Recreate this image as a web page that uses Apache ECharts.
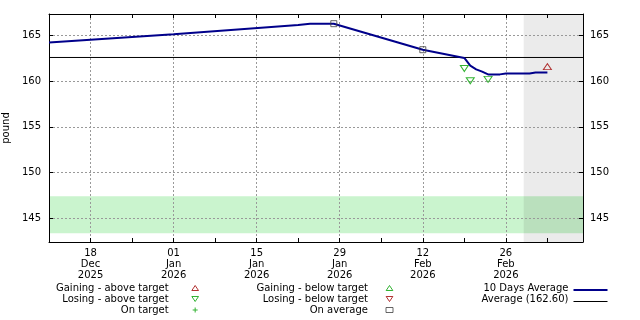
<!DOCTYPE html>
<html><head><meta charset="utf-8">
<script src="https://cdn.jsdelivr.net/npm/echarts@6/dist/echarts.min.js"></script>
<style>html,body{margin:0;padding:0;background:#fff}#c{width:640px;height:320px}</style>
</head><body><div id="c"></div>
<script>
// ---- data ----
const lineDates = ['2025-12-11','2026-01-01','2026-01-22','2026-01-24','2026-01-28','2026-02-12','2026-02-19','2026-02-20','2026-02-21','2026-02-22','2026-02-23','2026-02-25','2026-02-26','2026-03-02','2026-03-03','2026-03-05'];
const lineValues = [164.25,165.15,166.15,166.30,166.30,163.45,162.55,161.70,161.30,161.05,160.75,160.75,160.85,160.85,160.95,160.95];
const onAverageDates = ['2026-01-28','2026-02-12'];
const onAverageValues = [166.30,163.45];
const losingAboveDates = ['2026-02-19','2026-02-20','2026-02-23'];
const losingAboveValues = [161.40,160.05,160.20];
const gainingAboveDates = ['2026-03-05'];
const gainingAboveValues = [161.60];
const gainingBelowDates = [];
const gainingBelowValues = [];
const losingBelowDates = [];
const losingBelowValues = [];
const onTargetDates = [];
const onTargetValues = [];
const averageValue = 162.60;
const targetBand = [143.35, 147.40];
const forecastStart = '2026-03-01';
const xStart = '2025-12-11';
const xEnd = '2026-03-11';
const yMin = 142.4, yMax = 167.36;
const monthNames = ['Jan','Feb','Mar','Apr','May','Jun','Jul','Aug','Sep','Oct','Nov','Dec'];

// ---- helpers ----
const EPOCH = Date.UTC(2025, 11, 4);
function dayNum(s){ const p = s.split('-'); return Math.round((Date.UTC(+p[0], +p[1]-1, +p[2]) - EPOCH) / 86400000); }
function pairs(d, v){ return d.map((x, i) => [dayNum(x), v[i]]); }
const xMin = dayNum(xStart), xMax = dayNum(xEnd);
const FONT = 'DejaVu Sans';
function xLabel(v){
  v = Math.round(v);
  if (v % 14 !== 0 || v <= xMin || v >= xMax) return '';
  const dt = new Date(EPOCH + v * 86400000);
  const dd = String(dt.getUTCDate()).padStart(2, '0');
  return dd + '\n' + monthNames[dt.getUTCMonth()] + '\n' + dt.getUTCFullYear();
}
function yLabel(v){ return Math.abs(v - Math.round(v / 5) * 5) < 1e-6 ? String(Math.round(v)) : ''; }

const RED = '#a00000', GREEN = '#00a000', NAVY = '#00008b';
const UP = 'path://M4,0L8,6L0,6Z';
const DOWN = 'path://M0,0L8,0L4,6Z';
const PLUS = 'path://M2,0H3V2H5V3H3V5H2V3H0V2H2Z';
// legend line icons: invisible corner specks keep the 34x10 box, so the line sits at a fixed offset
const ICON_NAVY = 'path://M0,0H0.01V0.01H0Z M0,6H34V8H0Z M33.99,9.99H34V10H33.99Z';
const ICON_BLACK = 'path://M0,0H0.01V0.01H0Z M0,7H34V8H0Z M33.99,9.99H34V10H33.99Z';
const baseX = {
  type: 'value', min: xMin, max: xMax, interval: 7, z: 1.5,
  axisLine: { show: true, onZero: false, lineStyle: { color: '#000', width: 1 } },
  axisTick: { show: true, inside: true, length: 4, lineStyle: { color: '#000' } },
};
const baseY = {
  type: 'value', min: yMin, max: yMax, splitNumber: 5, z: 1.5,
  axisLine: { show: true, onZero: false, lineStyle: { color: '#000', width: 1 } },
  axisTick: { show: true, inside: true, length: 4, lineStyle: { color: '#000' } },
  axisLabel: { formatter: yLabel, color: '#000', fontSize: 10, fontFamily: FONT },
};

const option = {
  animation: false,
  backgroundColor: '#fff',
  textStyle: { fontFamily: FONT },
  grid: { left: 49, right: 57, top: 14, bottom: 78, containLabel: false, outerBoundsMode: 'none' },
  xAxis: [
    Object.assign({}, baseX, {
      position: 'bottom',
      axisLabel: { formatter: xLabel, color: '#000', fontSize: 10, fontFamily: FONT, lineHeight: 11, margin: 6, showMinLabel: false, showMaxLabel: false, hideOverlap: false },
      splitLine: { show: true, lineStyle: { color: ['rgba(0,0,0,0)', '#999'], type: [2, 2], width: 1 } }
    }),
    Object.assign({}, baseX, {
      position: 'top',
      axisLabel: { show: false },
      splitLine: { show: false }
    })
  ],
  yAxis: [
    Object.assign({}, baseY, {
      position: 'left',
      name: 'pound', nameLocation: 'middle', nameGap: 36,
      nameTextStyle: { color: '#000', fontSize: 10, fontFamily: FONT },
      axisLabel: Object.assign({}, baseY.axisLabel, { margin: 8 }),
      splitLine: { show: true, lineStyle: { color: '#999', type: [2, 2], width: 1 } }
    }),
    Object.assign({}, baseY, {
      position: 'right',
      axisLabel: Object.assign({}, baseY.axisLabel, { margin: 7 }),
      splitLine: { show: false }
    })
  ],
  legend: [
    {
      orient: 'vertical', align: 'right', right: 441, top: 283, padding: 0,
      itemWidth: 7, itemHeight: 5, itemGap: 1, selectedMode: false,
      itemStyle: { borderWidth: 1 },
      textStyle: { color: '#000', fontSize: 10, fontFamily: FONT, padding: [0, 18, 0, 0] },
      data: ['Gaining - above target', 'Losing - above target', 'On target']
    },
    {
      orient: 'vertical', align: 'right', right: 246.5, top: 283, padding: 0,
      itemWidth: 7, itemHeight: 5, itemGap: 1, selectedMode: false,
      itemStyle: { borderWidth: 1 },
      textStyle: { color: '#000', fontSize: 10, fontFamily: FONT, padding: [0, 13, 0, 0] },
      data: ['Gaining - below target', 'Losing - below target', 'On average']
    },
    {
      orient: 'vertical', align: 'right', right: 32.5, top: 283, padding: 0,
      itemWidth: 34, itemHeight: 10, itemGap: 1, selectedMode: false,
      itemStyle: { borderWidth: 0 },
      textStyle: { color: '#000', fontSize: 10, fontFamily: FONT },
      data: [
        { name: '10 Days Average', icon: ICON_NAVY },
        { name: 'Average (162.60)', icon: ICON_BLACK }
      ]
    }
  ],
  series: [
    {
      name: 'Average (162.60)', type: 'line', z: 2,
      data: [[xMin, averageValue], [xMax, averageValue]],
      symbol: 'none', silent: true,
      lineStyle: { color: '#000', width: 1 },
      itemStyle: { color: '#000' },
      markArea: {
        silent: true, z: 1,
        data: [
          [{ yAxis: targetBand[0], itemStyle: { color: '#caf4ce' } }, { yAxis: targetBand[1] }],
          [{ xAxis: dayNum(forecastStart), itemStyle: { color: 'rgba(0,0,0,0.078)' } }, { xAxis: xMax }]
        ]
      }
    },
    {
      name: '10 Days Average', type: 'line', z: 3,
      data: pairs(lineDates, lineValues),
      symbol: 'none', silent: true,
      lineStyle: { color: NAVY, width: 2 },
      itemStyle: { color: NAVY }
    },
    {
      name: 'Gaining - above target', type: 'scatter', z: 4, silent: true,
      data: pairs(gainingAboveDates, gainingAboveValues),
      symbol: UP, symbolSize: [8, 6],
      itemStyle: { color: 'rgba(0,0,0,0)', borderColor: RED, borderWidth: 1 }
    },
    {
      name: 'Losing - above target', type: 'scatter', z: 4, silent: true,
      data: pairs(losingAboveDates, losingAboveValues),
      symbol: DOWN, symbolSize: [8, 6],
      itemStyle: { color: 'rgba(0,0,0,0)', borderColor: GREEN, borderWidth: 1 }
    },
    {
      name: 'On target', type: 'scatter', z: 4, silent: true,
      data: pairs(onTargetDates, onTargetValues),
      symbol: PLUS, symbolSize: 5,
      itemStyle: { color: GREEN }
    },
    {
      name: 'Gaining - below target', type: 'scatter', z: 4, silent: true,
      data: pairs(gainingBelowDates, gainingBelowValues),
      symbol: UP, symbolSize: [8, 6],
      itemStyle: { color: 'rgba(0,0,0,0)', borderColor: GREEN, borderWidth: 1 }
    },
    {
      name: 'Losing - below target', type: 'scatter', z: 4, silent: true,
      data: pairs(losingBelowDates, losingBelowValues),
      symbol: DOWN, symbolSize: [8, 6],
      itemStyle: { color: 'rgba(0,0,0,0)', borderColor: RED, borderWidth: 1 }
    },
    {
      name: 'On average', type: 'scatter', z: 4, silent: true,
      data: pairs(onAverageDates, onAverageValues),
      symbol: 'rect', symbolSize: 6,
      itemStyle: { color: 'rgba(0,0,0,0)', borderColor: '#404040', borderWidth: 1 }
    }
  ]
};
const chart = echarts.init(document.getElementById('c'), null, { renderer: 'canvas' });
chart.setOption(option);
</script>
</body></html>
